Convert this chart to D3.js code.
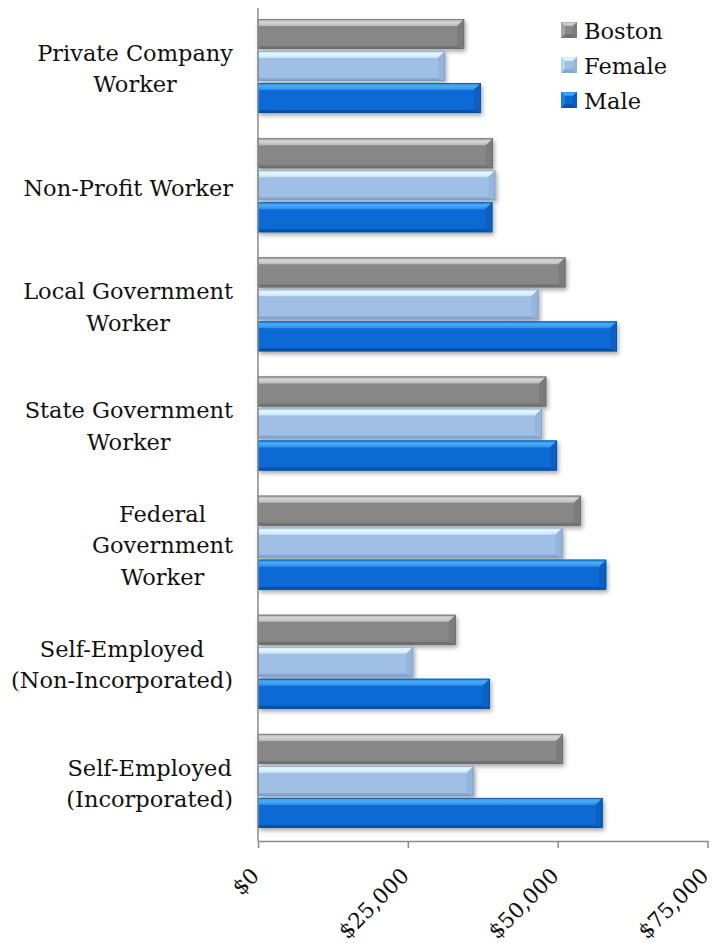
<!DOCTYPE html>
<html>
<head>
<meta charset="utf-8">
<script src="https://cdn.jsdelivr.net/npm/d3@7"></script>
<style>
  html, body { margin: 0; padding: 0; background: #fff; }
  svg { display: block; }
  text { font-family: "DejaVu Serif", "Liberation Serif", serif; fill: #111; }
</style>
</head>
<body>
<svg id="chart" width="713" height="943"></svg>
<script>
// Median earnings by class of worker
const categories = [
  "Private Company\nWorker",
  "Non-Profit Worker",
  "Local Government\nWorker",
  "State Government\nWorker",
  "Federal\nGovernment\nWorker",
  "Self-Employed\n(Non-Incorporated)",
  "Self-Employed\n(Incorporated)"
];
const seriesNames = ["Boston", "Female", "Male"];
const bostonValues = [34400, 39200, 51300, 48100, 53900, 33000, 50900];
const femaleValues = [31200, 39600, 46800, 47400, 50800, 25900, 36000];
const maleValues   = [37200, 39100, 59900, 49900, 58100, 38700, 57500];
const tickValues = [0, 25000, 50000, 75000];

const seriesValues = { Boston: bostonValues, Female: femaleValues, Male: maleValues };

// Bevel palette per series: top facet, body, bottom facet, right facet, outline
const palette = {
  Boston: { top: ["#a9a9a9", "#d6d6d6", "#b9b9b9"], body: "#878787", bottom: "#727272", right: "#7c7c7c", edge: "#6a6a6a" },
  Female: { top: ["#c9e6fb", "#e6f8ff", "#c4e2f8"], body: "#a0bfe4", bottom: "#88a7cd", right: "#95b5dc", edge: "#7d98bb" },
  Male:   { top: ["#2a8ae6", "#4aabf6", "#2c8ce8"], body: "#0a69d3", bottom: "#0553ab", right: "#085fc2", edge: "#0450a2" }
};

const svg = d3.select("#chart");
const defs = svg.append("defs");

const shadow = defs.append("filter").attr("id", "shadow")
  .attr("x", "-5%").attr("y", "-20%").attr("width", "115%").attr("height", "160%");
shadow.append("feDropShadow")
  .attr("dx", 1.5).attr("dy", 2.5).attr("stdDeviation", 2)
  .attr("flood-color", "#000").attr("flood-opacity", 0.35);

seriesNames.forEach(s => {
  const g = defs.append("linearGradient").attr("id", "top-" + s)
    .attr("x1", 0).attr("y1", 0).attr("x2", 0).attr("y2", 1);
  g.append("stop").attr("offset", "0%").attr("stop-color", palette[s].top[0]);
  g.append("stop").attr("offset", "45%").attr("stop-color", palette[s].top[1]);
  g.append("stop").attr("offset", "100%").attr("stop-color", palette[s].top[2]);
});

const axisLeftX = 258;
const x = d3.scaleLinear().domain([0, 75000]).range([axisLeftX, 707.5]);
const y = d3.scaleBand().domain(categories).range([6.5, 840.5]).padding(0);
const groupH = 94;
const yInner = d3.scaleBand().domain(seriesNames).range([0, groupH]).paddingInner(0.0625);

// bevelled bar drawing
function drawBar(sel, x0, x1, y0, h, s) {
  const p = palette[s];
  const bt = Math.min(7, (x1 - x0) / 2), bb = 3, br = Math.min(7, (x1 - x0) / 2);
  const y1 = y0 + h;
  const g = sel.append("g").attr("filter", "url(#shadow)");
  g.append("rect").attr("x", x0).attr("y", y0).attr("width", x1 - x0).attr("height", h)
    .attr("fill", p.body);
  g.append("path").attr("fill", `url(#top-${s})`)
    .attr("d", `M${x0},${y0}L${x1},${y0}L${x1 - br},${y0 + bt}L${x0},${y0 + bt}Z`);
  g.append("path").attr("fill", p.bottom)
    .attr("d", `M${x0},${y1}L${x1},${y1}L${x1 - br},${y1 - bb}L${x0},${y1 - bb}Z`);
  g.append("path").attr("fill", p.right)
    .attr("d", `M${x1},${y0}L${x1},${y1}L${x1 - br},${y1 - bb}L${x1 - br},${y0 + bt}Z`);
  g.append("rect").attr("x", x0).attr("y", y0 + 0.5).attr("width", x1 - x0 - 0.5).attr("height", h - 1)
    .attr("fill", "none").attr("stroke", p.edge).attr("stroke-width", 1).attr("stroke-opacity", 0.7);
}

const barsLayer = svg.append("g");
categories.forEach((c, i) => {
  const gTop = y(c) + (y.bandwidth() - groupH) / 2;
  seriesNames.forEach(s => {
    const v = seriesValues[s][i];
    drawBar(barsLayer, x(0), x(v), gTop + yInner(s), yInner.bandwidth(), s);
  });
});

// axes
const axisColor = "#8a8a8a";
const baseY = 841;
svg.append("line").attr("x1", axisLeftX).attr("x2", axisLeftX).attr("y1", 8).attr("y2", baseY)
  .attr("stroke", axisColor).attr("stroke-width", 1.5);

const xAxis = svg.append("g").attr("transform", `translate(0,${baseY})`)
  .call(d3.axisBottom(x).tickValues(tickValues).tickSize(7).tickSizeOuter(0)
    .tickFormat(d => "$" + d3.format(",")(d)));
xAxis.select(".domain").attr("stroke", axisColor).attr("stroke-width", 1.5);
xAxis.selectAll(".tick line").attr("stroke", axisColor).attr("stroke-width", 1.5);
xAxis.selectAll(".tick text")
  .attr("font-family", '"DejaVu Serif", serif')
  .attr("font-size", 21.5)
  .attr("fill", "#111")
  .attr("text-anchor", "end")
  .attr("y", 0).attr("dy", 0)
  .attr("transform", "translate(2,36) rotate(-45)");

// category labels: lines centered on each other, block right-aligned
const labelRight = 233;
const lineH = 31.5;
const labels = svg.append("g").attr("font-size", 22.5);
categories.forEach(c => {
  const lines = c.split("\n");
  const cy = y(c) + y.bandwidth() / 2 + 10.5;
  const t = labels.append("text").attr("text-anchor", "middle");
  lines.forEach((ln, k) => {
    t.append("tspan").attr("y", cy + (k - (lines.length - 1) / 2) * lineH).text(ln);
  });
  let w = 0;
  t.selectAll("tspan").each(function () { w = Math.max(w, this.getComputedTextLength()); });
  t.selectAll("tspan").attr("x", labelRight - w / 2);
});

// legend
const legend = svg.append("g").attr("transform", "translate(561,22)");
seriesNames.forEach((s, k) => {
  const row = legend.append("g").attr("transform", `translate(0,${k * 35})`);
  const p = palette[s];
  row.append("rect").attr("width", 16).attr("height", 16).attr("fill", p.body);
  row.append("path").attr("fill", `url(#top-${s})`).attr("d", "M0,0L16,0L12,4L4,4Z");
  row.append("path").attr("fill", p.bottom).attr("d", "M0,16L16,16L12,12L4,12Z");
  row.append("path").attr("fill", p.right).attr("d", "M16,0L16,16L12,12L12,4Z");
  row.append("path").attr("fill", p.top[2]).attr("d", "M0,0L0,16L4,12L4,4Z").attr("opacity", 0.6);
  row.append("text").attr("x", 23).attr("y", 17).attr("font-size", 22.5).text(s);
});
</script>
</body>
</html>
